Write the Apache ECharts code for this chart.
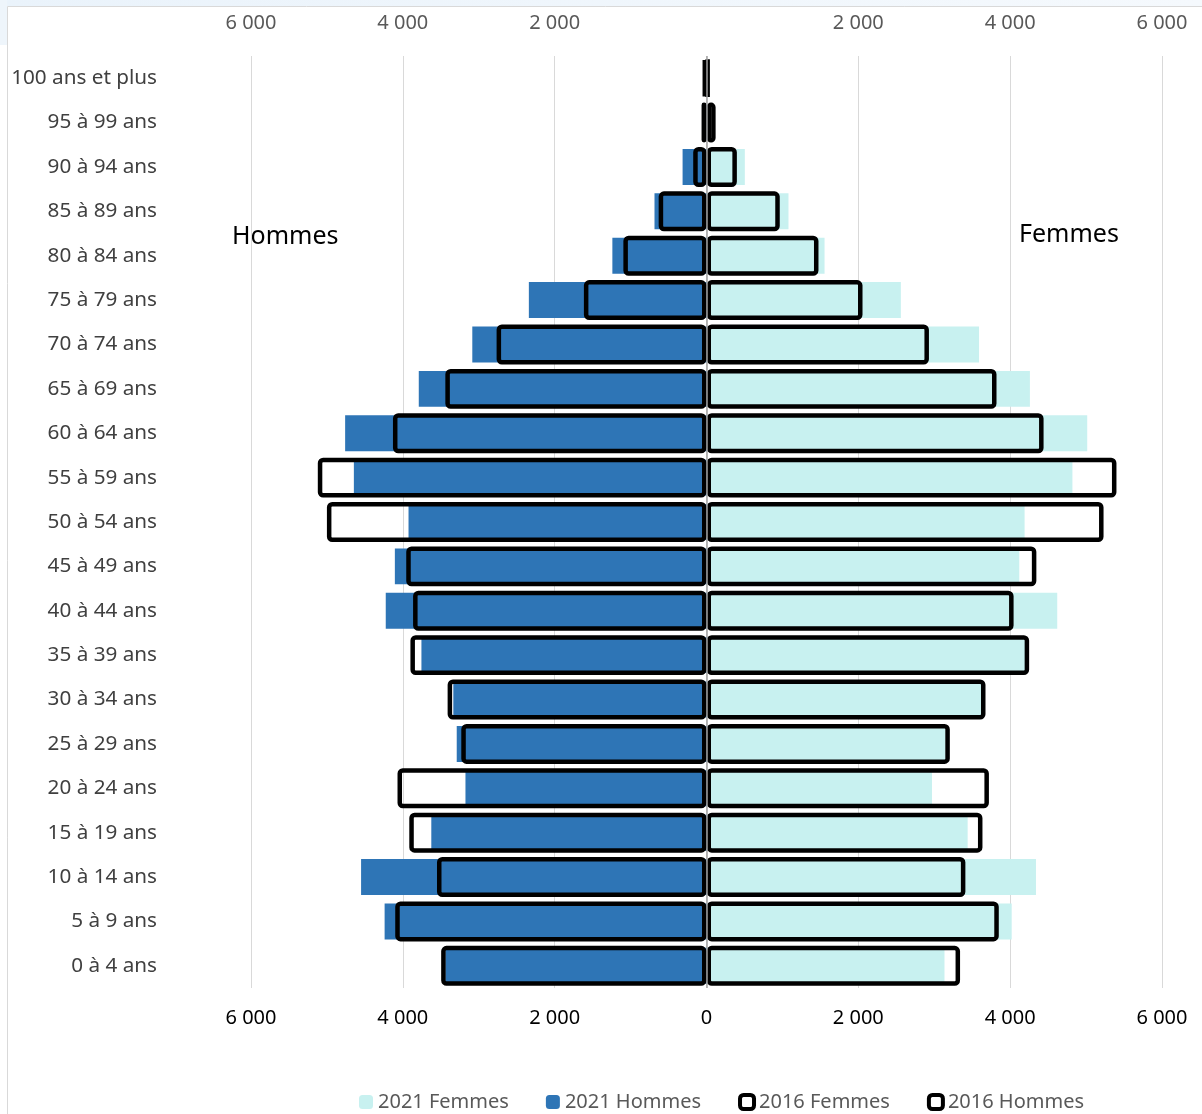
<!DOCTYPE html>
<html><head><meta charset="utf-8">
<script src="https://cdn.jsdelivr.net/npm/echarts@6/dist/echarts.min.js"></script>
<style>html,body{margin:0;padding:0;background:#fff}#c{width:1202px;height:1114px}</style>
</head><body><div id="c"></div>
<script>
const categories = ['100 ans et plus','95 à 99 ans','90 à 94 ans','85 à 89 ans','80 à 84 ans','75 à 79 ans','70 à 74 ans','65 à 69 ans','60 à 64 ans','55 à 59 ans','50 à 54 ans','45 à 49 ans','40 à 44 ans','35 à 39 ans','30 à 34 ans','25 à 29 ans','20 à 24 ans','15 à 19 ans','10 à 14 ans','5 à 9 ans','0 à 4 ans'];
const femmes2021 = [40, 60, 505, 1080, 1555, 2560, 3590, 4260, 5015, 4820, 4190, 4120, 4620, 4200, 3620, 3150, 2970, 3440, 4340, 4020, 3135];
const hommes2021 = [20, 35, 315, 685, 1240, 2340, 3085, 3790, 4760, 4645, 3925, 4105, 4225, 3755, 3335, 3290, 3175, 3625, 4550, 4240, 3440];
const femmes2016 = [30, 120, 400, 965, 1475, 2055, 2930, 3820, 4440, 5400, 5230, 4345, 4045, 4250, 3675, 3205, 3720, 3635, 3410, 3850, 3340];
const hommes2016 = [45, 65, 175, 630, 1095, 1615, 2765, 3440, 4130, 5120, 5000, 3955, 3865, 3900, 3410, 3230, 4070, 3915, 3550, 4100, 3495];
const tickValues = [-6000, -4000, -2000, 0, 2000, 4000, 6000];

const FONT = 'Noto Sans';
const fmt = v => { const a = Math.abs(v); return String(a).replace(/\B(?=(\d{3})+(?!\d))/g, ' '); };
const chart = echarts.init(document.getElementById('c'), null, {renderer: 'canvas'});
const outline = {color: 'rgba(0,0,0,0)', borderColor: '#000', borderWidth: 4.5, borderRadius: 3};
const catAxis = (show) => ({type: 'category', data: categories, inverse: true, show: show,
    axisLine: {show: false}, axisTick: {show: false},
    axisLabel: {color: '#404040', fontSize: 20.7, margin: 94, fontFamily: FONT}});
const option = {
  animation: false,
  textStyle: {fontFamily: FONT},
  grid: {left: 251, right: 40, top: 56, bottom: 126},
  xAxis: [
    {type: 'value', position: 'bottom', min: tickValues[0], max: tickValues[tickValues.length-1], interval: 2000,
     axisLine: {show: false}, axisTick: {show: false},
     splitLine: {show: true, lineStyle: {color: '#d9d9d9', width: 1}},
     axisLabel: {formatter: fmt, color: '#000', fontSize: 20, margin: 20, fontFamily: FONT}},
    {type: 'value', position: 'top', min: tickValues[0], max: tickValues[tickValues.length-1], interval: 2000,
     axisLine: {show: false}, axisTick: {show: false}, splitLine: {show: false},
     axisLabel: {formatter: v => v === 0 ? '' : fmt(v), color: '#595959', fontSize: 20, margin: 23, fontFamily: FONT}}
  ],
  yAxis: [catAxis(true), catAxis(false)],
  legend: {
    left: 354, top: 1087, itemWidth: 14, itemHeight: 14, itemGap: 37,
    textStyle: {color: '#595959', fontSize: 20, fontFamily: FONT},
    data: ['2021 Femmes', '2021 Hommes',
      {name: '2016 Femmes', itemStyle: {color: '#fff', borderColor: '#000', borderWidth: 4}},
      {name: '2016 Hommes', itemStyle: {color: '#fff', borderColor: '#000', borderWidth: 4}}]
  },
  series: [
    {name: '2021 Femmes', type: 'bar', yAxisIndex: 0, data: femmes2021, barWidth: '81%', barGap: '-100%',
     itemStyle: {color: '#c8f1f0'}},
    {name: '2021 Hommes', type: 'bar', yAxisIndex: 0, data: hommes2021.map(v => -v), barWidth: '81%', barGap: '-100%',
     itemStyle: {color: '#2e75b6'}},
    {name: '2016 Femmes', type: 'bar', yAxisIndex: 1, data: femmes2016, barWidth: '90%', barGap: '-100%',
     itemStyle: outline},
    {name: '2016 Hommes', type: 'bar', yAxisIndex: 1, data: hommes2016.map(v => -v), barWidth: '90%', barGap: '-100%',
     itemStyle: outline,
     markLine: {silent: true, symbol: ['none', 'none'], label: {show: false},
       lineStyle: {color: '#a0a0a0', width: 1.5, type: 'solid'}, data: [{xAxis: 0}], z: 10}}
  ],
  graphic: [
    {type: 'rect', z: -10, shape: {x: 0, y: 0, width: 1202, height: 6},
     style: {fill: new echarts.graphic.LinearGradient(0, 0, 1, 0, [{offset: 0, color: '#eaf3fb'}, {offset: 1, color: '#f5f9fd'}])}},
    {type: 'rect', z: -10, shape: {x: 0, y: 0, width: 7, height: 45}, style: {fill: '#eef5fb'}},
    {type: 'rect', z: -9, shape: {x: 7.5, y: 6.5, width: 1300, height: 1300}, style: {fill: 'none', stroke: '#d9d9d9', lineWidth: 1}},
    {type: 'text', left: 232, top: 224, style: {text: 'Hommes', fontSize: 25, fill: '#000', fontFamily: FONT}},
    {type: 'text', left: 1019, top: 222, style: {text: 'Femmes', fontSize: 25, fill: '#000', fontFamily: FONT}}
  ]
};
chart.setOption(option);
</script>
</body></html>
